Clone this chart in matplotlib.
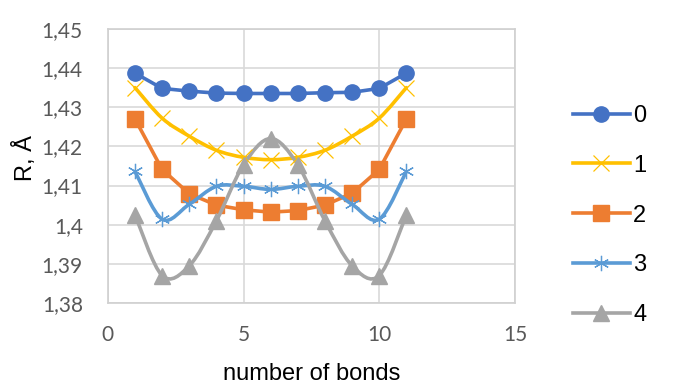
import numpy as np
import matplotlib
matplotlib.use("Agg")
import matplotlib.pyplot as plt
from matplotlib.path import Path
from matplotlib.patches import PathPatch
from matplotlib.ticker import FuncFormatter, MultipleLocator
from matplotlib.lines import Line2D

# data
bonds = [1, 2, 3, 4, 5, 6, 7, 8, 9, 10, 11]
r0 = [1.4387, 1.4348, 1.4341, 1.4336, 1.4335, 1.4335, 1.4335, 1.4337, 1.4338, 1.4348, 1.4387]
r1 = [1.4350, 1.4272, 1.4226, 1.4190, 1.4172, 1.4166, 1.4172, 1.4190, 1.4226, 1.4272, 1.4350]
r2 = [1.4270, 1.4141, 1.4079, 1.4050, 1.4038, 1.4032, 1.4036, 1.4050, 1.4080, 1.4141, 1.4270]
r3 = [1.4136, 1.4014, 1.4052, 1.4098, 1.4098, 1.4090, 1.4098, 1.4098, 1.4052, 1.4014, 1.4136]
r4 = [1.4025, 1.3870, 1.3895, 1.4010, 1.4153, 1.4220, 1.4153, 1.4010, 1.3895, 1.3870, 1.4025]
names = ["0", "1", "2", "3", "4"]

colors = ["#4472C4", "#FFC000", "#ED7D31", "#5B9BD5", "#A5A5A5"]
markers = ["o", "x", "s", (6, 2, 0), "^"]
smooth = [False, True, False, True, True]
series = [r0, r1, r2, r3, r4]


def smooth_path(x, y):
    # excel-like smoothed line: bezier segments through the points
    x = np.asarray(x, float)
    y = np.asarray(y, float)
    pts = np.column_stack([x, y])
    verts = [pts[0]]
    codes = [Path.MOVETO]
    n = len(pts)
    for i in range(n - 1):
        p0 = pts[i - 1] if i > 0 else pts[i]
        p1 = pts[i]
        p2 = pts[i + 1]
        p3 = pts[i + 2] if i + 2 < n else pts[i + 1]
        c1 = p1 + (p2 - p0) / 6.0
        c2 = p2 - (p3 - p1) / 6.0
        verts += [c1, c2, p2]
        codes += [Path.CURVE4] * 3
    return Path(verts, codes)


def mstyle(m):
    if m == "x" or isinstance(m, tuple):
        return dict(ms=11, mew=0.9)
    return dict(ms=11, mew=1)


fig = plt.figure(figsize=(6.74, 3.85), dpi=100)
ax = fig.add_axes([0.160, 0.213, 0.604, 0.712])

for ys, c, m, sm, nm in zip(series, colors, markers, smooth, names):
    if sm:
        ax.add_patch(PathPatch(smooth_path(bonds, ys), fill=False, edgecolor=c,
                               lw=2.6, zorder=3, capstyle="round"))
        ax.plot(bonds, ys, ls="none", marker=m, color=c, zorder=4, **mstyle(m))
    else:
        ax.plot(bonds, ys, color=c, lw=2.6, marker=m, zorder=3, **mstyle(m))

ax.set_xlim(0, 15)
ax.set_ylim(1.38, 1.45)
ax.xaxis.set_major_locator(MultipleLocator(5))
ax.yaxis.set_major_locator(MultipleLocator(0.01))
comma = FuncFormatter(lambda v, p: f"{v:.2f}".rstrip("0").rstrip(".").replace(".", ","))
ax.yaxis.set_major_formatter(comma)
ax.xaxis.set_major_formatter(FuncFormatter(lambda v, p: f"{v:g}"))
ax.grid(True, color="#D9D9D9", lw=1.2)
ax.set_axisbelow(True)
for s in ax.spines.values():
    s.set_color("#D0D0D0")
    s.set_linewidth(1.2)
ax.tick_params(axis="y", length=0, labelsize=15, labelcolor="#595959", pad=18)
ax.tick_params(axis="x", length=0, labelsize=15, labelcolor="#595959", pad=16)
for lab in ax.get_xticklabels() + ax.get_yticklabels():
    lab.set_family("Lato")

ax.set_xlabel("number of bonds", fontsize=17, family="Liberation Sans", labelpad=13)
ax.set_ylabel("R, Å", fontsize=17, family="Liberation Sans")
ax.yaxis.set_label_coords(-0.175, 0.53)

handles = []
for c, m in zip(colors, markers):
    handles.append(Line2D([], [], color=c, lw=2.6, marker=m, **mstyle(m)))
leg = fig.legend(handles, names, loc="center left", bbox_to_anchor=(0.850, 0.440),
                 frameon=False, handlelength=2.4, handletextpad=0.15,
                 borderpad=0, borderaxespad=0,
                 labelspacing=1.18, prop={"family": "Liberation Sans", "size": 17})

fig.savefig("out.png", dpi=100)
